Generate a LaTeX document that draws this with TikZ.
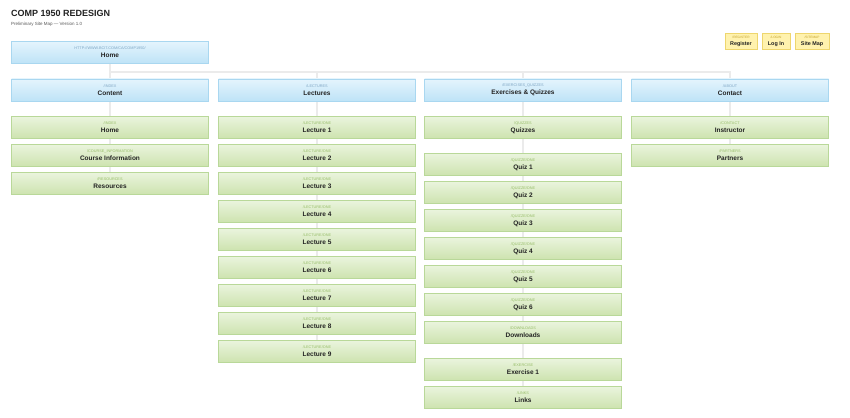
\documentclass[tikz,border=0pt]{standalone}
\usepackage{fontspec}
\setmainfont{Liberation Sans}
\usetikzlibrary{backgrounds}
\definecolor{bluetop}{HTML}{E4F4FD}
\definecolor{bluebot}{HTML}{BEE3F7}
\definecolor{blueline}{HTML}{A9D7F0}
\definecolor{bluetag}{HTML}{7FA6C4}
\definecolor{greentop}{HTML}{EAF4DD}
\definecolor{greenbot}{HTML}{CDE3AF}
\definecolor{greenline}{HTML}{B9D899}
\definecolor{greentag}{HTML}{98BD6A}
\definecolor{yellowfill}{HTML}{FFF2AE}
\definecolor{yellowline}{HTML}{EED66E}
\definecolor{yellowtag}{HTML}{C4A22E}
\definecolor{wire}{HTML}{EBEBEB}
\definecolor{ink}{HTML}{222222}
\newcommand{\pagetag}[3]{{\fontsize{3.8}{4}\selectfont\color{#1}#2}\\{\bfseries #3}}
\newcommand{\linktag}[2]{{\fontsize{3.2}{3.5}\selectfont\color{yellowtag}#1}\\{\bfseries #2}}

\begin{document}
\begin{tikzpicture}[
	x=1pt,y=-1pt,
	every node/.style={text=ink,inner sep=0pt,align=center},
	section/.style={draw=blueline,line width=0.6pt,top color=bluetop,bottom color=bluebot,minimum width=197pt,minimum height=22pt,font=\fontsize{6.5}{8}\selectfont},
	page/.style={draw=greenline,line width=0.6pt,top color=greentop,bottom color=greenbot,minimum width=197pt,minimum height=22pt,font=\fontsize{6.5}{8}\selectfont},
	util/.style={draw=yellowline,line width=0.6pt,fill=yellowfill,minimum height=16pt,font=\fontsize{5.4}{6.5}\selectfont},
	wiring/.style={draw=wire,line width=1.6pt}
]
\useasboundingbox (0,0) rectangle (850,417);
%title
\node[anchor=west,font=\fontsize{9}{10}\selectfont\bfseries] (title) at (11,13) {COMP 1950 REDESIGN};
\node[anchor=west,font=\fontsize{4.5}{5}\selectfont,text=black!65] (subtitle) at (11,24) {Preliminary Site Map --- Version 1.0};
%utility links
\node[util,minimum width=32pt] (register) at (741,41.5) {\linktag{/REGISTER}{Register}};
\node[util,minimum width=28pt] (login) at (776,41.5) {\linktag{/LOGIN}{Log In}};
\node[util,minimum width=34pt] (sitemap) at (812,41.5) {\linktag{/SITEMAP}{Site Map}};
%home and sections
\node[section] (home) at (110,52.5) {\pagetag{bluetag}{HTTP://WWW.BCIT.COM/CA/COMP1950/}{Home}};
\node[section] (content) at (110,90) {\pagetag{bluetag}{/INDEX}{Content}};
\node[section] (lectures) at (317,90) {\pagetag{bluetag}{/LECTURES}{Lectures}};
\node[section] (exercises) at (523,90) {\pagetag{bluetag}{/EXERCISES\_QUIZZES}{Exercises \& Quizzes}};
\node[section] (contact) at (730,90) {\pagetag{bluetag}{/ABOUT}{Contact}};
%content pages
\node[page] (index) at (110,127.5) {\pagetag{greentag}{/INDEX}{Home}};
\node[page] (courseinfo) at (110,155.5) {\pagetag{greentag}{/COURSE\_INFORMATION}{Course Information}};
\node[page] (resources) at (110,183.5) {\pagetag{greentag}{/RESOURCES}{Resources}};
%lecture pages
\foreach \n in {1,...,9}{
	\node[page] (lecture\n) at (317,{127.5+28*(\n-1)}) {\pagetag{greentag}{/LECTURE/ONE}{Lecture \n}};
}
%quiz and exercise pages
\node[page] (quizzes) at (523,127.5) {\pagetag{greentag}{/QUIZZES}{Quizzes}};
\foreach \n in {1,...,6}{
	\node[page] (quiz\n) at (523,{164.5+28*(\n-1)}) {\pagetag{greentag}{/QUIZZE/ONE}{Quiz \n}};
}
\node[page] (downloads) at (523,332.5) {\pagetag{greentag}{/DOWNLOADS}{Downloads}};
\node[page] (exercise1) at (523,369.5) {\pagetag{greentag}{/EXERCISE}{Exercise 1}};
\node[page] (links) at (523,397.5) {\pagetag{greentag}{/LINKS}{Links}};
%contact pages
\node[page] (instructor) at (730,127.5) {\pagetag{greentag}{/CONTACT}{Instructor}};
\node[page] (partners) at (730,155.5) {\pagetag{greentag}{/PARTNERS}{Partners}};
%connectors
\begin{scope}[on background layer]
\draw[wiring] (home.south) -- (content.north);
\draw[wiring] (home.south) ++(0,8) coordinate(hub) -| (contact.north);
\draw[wiring] (hub) -| (lectures.north);
\draw[wiring] (hub) -| (exercises.north);
\draw[wiring] (content.south) -- (resources.north);
\draw[wiring] (lectures.south) -- (lecture9.north);
\draw[wiring] (exercises.south) -- (links.north);
\draw[wiring] (contact.south) -- (partners.north);
\end{scope}
\end{tikzpicture}
\end{document}
